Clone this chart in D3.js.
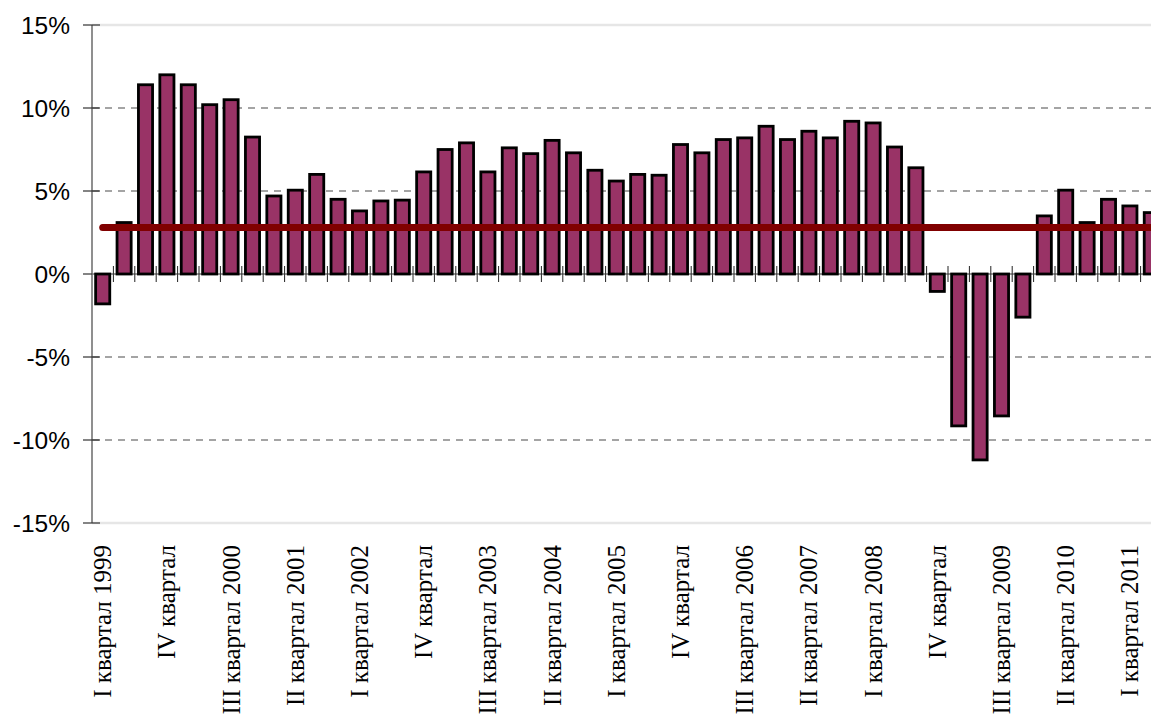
<!DOCTYPE html>
<html>
<head>
<meta charset="utf-8">
<script src="https://cdn.jsdelivr.net/npm/d3@7"></script>
<style>
  html, body { margin: 0; padding: 0; background: #fff; overflow: hidden; }
  svg { display: block; }
</style>
</head>
<body>
<svg id="chart" width="1151" height="722"></svg>
<script>
// ---- Data ----
const categories = [
  "I 1999","II 1999","III 1999","IV 1999",
  "I 2000","II 2000","III 2000","IV 2000",
  "I 2001","II 2001","III 2001","IV 2001",
  "I 2002","II 2002","III 2002","IV 2002",
  "I 2003","II 2003","III 2003","IV 2003",
  "I 2004","II 2004","III 2004","IV 2004",
  "I 2005","II 2005","III 2005","IV 2005",
  "I 2006","II 2006","III 2006","IV 2006",
  "I 2007","II 2007","III 2007","IV 2007",
  "I 2008","II 2008","III 2008","IV 2008",
  "I 2009","II 2009","III 2009","IV 2009",
  "I 2010","II 2010","III 2010","IV 2010",
  "I 2011","II 2011"
];
const values = [
  -1.8, 3.1, 11.4, 12.0,
  11.4, 10.2, 10.5, 8.25,
  4.7, 5.05, 6.0, 4.5,
  3.8, 4.4, 4.45, 6.15,
  7.5, 7.9, 6.15, 7.6,
  7.25, 8.05, 7.3, 6.25,
  5.6, 6.0, 5.95, 7.8,
  7.3, 8.1, 8.2, 8.9,
  8.1, 8.6, 8.2, 9.2,
  9.1, 7.65, 6.4, -1.05,
  -9.15, -11.2, -8.55, -2.6,
  3.5, 5.05, 3.1, 4.5,
  4.1, 3.7
];
const meanValue = 2.8;
const yTicks = [-15, -10, -5, 0, 5, 10, 15];
const tickLabelIndex = [0, 3, 6, 9, 12, 15, 18, 21, 24, 27, 30, 33, 36, 39, 42, 45, 48];
const tickLabels = [
  "I квартал 1999","IV квартал","III квартал 2000","II квартал 2001",
  "I квартал 2002","IV квартал","III квартал 2003","II квартал 2004",
  "I квартал 2005","IV квартал","III квартал 2006","II квартал 2007",
  "I квартал 2008","IV квартал","III квартал 2009","II квартал 2010",
  "I квартал 2011"
];

// ---- Layout ----
const svg = d3.select("#chart");
const plotLeft = 92, plotTop = 25, plotBottom = 523;
const step = 21.4;
const plotRight = plotLeft + step * categories.length;

const x = d3.scaleBand().domain(categories).range([plotLeft, plotRight]).paddingInner(0.34).paddingOuter(0.17);
const xb = d3.scaleBand().domain(categories).range([plotLeft, plotRight]).padding(0);
const y = d3.scaleLinear().domain([-15, 15]).range([plotBottom, plotTop]);

// Gridlines
const grid = svg.append("g");
yTicks.forEach(t => {
  if (t === 0) return;
  const edge = (t === 15 || t === -15);
  grid.append("line")
    .attr("x1", plotLeft).attr("x2", 1151)
    .attr("y1", y(t)).attr("y2", y(t))
    .attr("stroke", edge ? "#e6e6e6" : "#4a4a4a")
    .attr("stroke-width", edge ? 2.5 : 1.2)
    .attr("stroke-dasharray", edge ? null : "7,6");
});

// X tick marks at category boundaries (crossing zero line)
const xt = svg.append("g");
categories.forEach((c, i) => {
  if (i === 0) return;
  const xx = xb(c);
  xt.append("line")
    .attr("x1", xx).attr("x2", xx)
    .attr("y1", y(0) - 8).attr("y2", y(0) + 8)
    .attr("stroke", "#222").attr("stroke-width", 1);
});
// zero line
svg.append("line")
  .attr("x1", plotLeft).attr("x2", 1151)
  .attr("y1", y(0)).attr("y2", y(0))
  .attr("stroke", "#333").attr("stroke-width", 1);

// Bars
svg.append("g").selectAll("rect")
  .data(values)
  .join("rect")
  .attr("x", (d, i) => x(categories[i]))
  .attr("width", x.bandwidth())
  .attr("y", d => y(Math.max(0, d)))
  .attr("height", d => Math.abs(y(d) - y(0)))
  .attr("fill", "#993366")
  .attr("stroke", "#000")
  .attr("stroke-width", 2.8);

// Y axis
const yAxis = svg.append("g");
yAxis.append("line")
  .attr("x1", plotLeft).attr("x2", plotLeft)
  .attr("y1", plotTop).attr("y2", plotBottom)
  .attr("stroke", "#6a6a6a").attr("stroke-width", 1.5);
yTicks.forEach(t => {
  yAxis.append("line")
    .attr("x1", plotLeft - 9).attr("x2", plotLeft + (t === 0 ? 0 : 8))
    .attr("y1", y(t)).attr("y2", y(t))
    .attr("stroke", "#333").attr("stroke-width", 1.2);
  yAxis.append("text")
    .attr("x", 70).attr("y", y(t))
    .attr("text-anchor", "end")
    .attr("dominant-baseline", "central")
    .attr("font-family", "'Liberation Sans', Arial, sans-serif")
    .attr("font-size", 24.5)
    .attr("fill", "#000")
    .text(t + "%");
});

// Mean line
svg.append("line")
  .attr("x1", x(categories[0]) + x.bandwidth() / 2)
  .attr("x2", plotRight)
  .attr("y1", y(meanValue)).attr("y2", y(meanValue))
  .attr("stroke", "#800000")
  .attr("stroke-width", 7)
  .attr("stroke-linecap", "round");

// X labels
const xl = svg.append("g");
tickLabelIndex.forEach((idx, k) => {
  const cx = x(categories[idx]) + x.bandwidth() / 2;
  xl.append("text")
    .attr("transform", `translate(${cx},${plotBottom + 22}) rotate(-90)`)
    .attr("text-anchor", "end")
    .attr("dominant-baseline", "central")
    .attr("font-family", "'Liberation Serif', 'Times New Roman', serif")
    .attr("font-size", 25)
    .attr("fill", "#000")
    .text(tickLabels[k]);
});
</script>
</body>
</html>
